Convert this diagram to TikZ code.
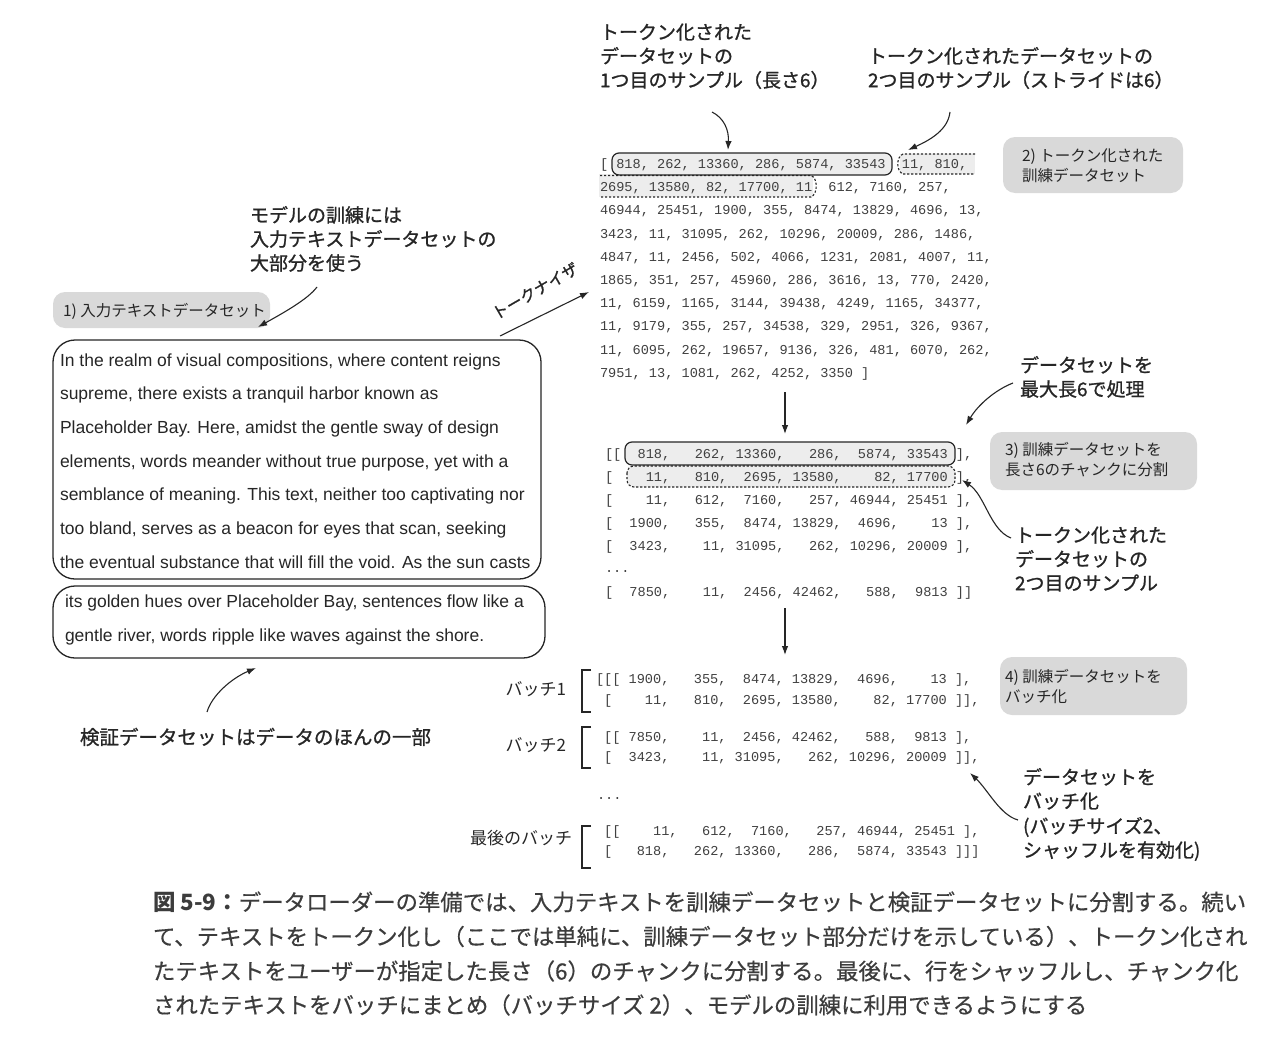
\documentclass[tikz,border=0pt]{standalone}
\usepackage{fontspec}
\setmainfont{Liberation Sans}
\newfontfamily\jpf{Noto Sans CJK JP}
\newfontfamily\jpm{Noto Sans CJK JP}[FakeBold=1.0]
\newfontfamily\jpc{Noto Sans CJK JP}[FakeBold=0.4]
\newfontfamily\monof{Liberation Mono}
\usetikzlibrary{arrows.meta}
\definecolor{hlgray}{HTML}{EDEDED}
\definecolor{boxgray}{HTML}{D9D9D9}
\definecolor{tokgray}{HTML}{404040}
\definecolor{ink}{HTML}{262626}
\begin{document}
\begin{tikzpicture}[x=1pt,y=-1pt,
  every node/.style={inner sep=0pt,outer sep=0pt},
  tok/.style={font=\monof\fontsize{13.6}{16}\selectfont,text=tokgray,anchor=base west},
  note/.style={font=\jpm\fontsize{19}{24}\selectfont,text=ink,anchor=base west},
  lbl/.style={font=\jpf\fontsize{15.5}{20}\selectfont,text=ink,anchor=base west},
  batchlbl/.style={font=\jpf\fontsize{17}{20}\selectfont,text=ink,anchor=base east},
  para/.style={font=\fontsize{17.5}{20}\selectfont,text=ink,anchor=base west},
  captext/.style={font=\jpc\fontsize{22.4}{28}\selectfont,text=ink!90,anchor=base west},
  graybox/.style={fill=boxgray,rounded corners=12},
  textbox/.style={draw=ink,line width=1.3,rounded corners=22},
  hlbox/.style={fill=hlgray,draw=ink,line width=1.2,rounded corners=7},
  dotline/.style={draw=ink,dash pattern=on 2.2 off 1.8,line width=1.1},
  arr/.style={-{Latex[length=9,width=6.5]},line width=1.1,draw=ink},
  bracket/.style={line width=1.8,draw=ink},
]
\useasboundingbox (0,0) rectangle (1268,1062);
\fill[white] (0,0) rectangle (1268,1062);

% ---------- top annotations ----------
\node[note] (n1a) at (600,39.2) {トークン化された};
\node[note] (n1b) at (600,63.2) {データセットの};
\node[note] (n1c) at (600,87.2) {1つ目のサンプル（長さ6）};
\node[note] (n2a) at (868,63.2) {トークン化されたデータセットの};
\node[note] (n2b) at (868,87.2) {2つ目のサンプル（ストライドは6）};

% ---------- gray step boxes ----------
\path[graybox] (53,292) rectangle (270,328);
\node[lbl] (b1) at (63,316) {1) 入力テキストデータセット};
\path[graybox] (1003,137) rectangle (1183,193);
\node[lbl] (b2a) at (1022,161.5) {2) トークン化された};
\node[lbl] (b2b) at (1022,181.5) {訓練データセット};
\path[graybox] (990,432) rectangle (1197,490);
\node[lbl] (b3a) at (1005,455.5) {3) 訓練データセットを};
\node[lbl] (b3b) at (1005,475.5) {長さ6のチャンクに分割};
\path[graybox] (1000,657) rectangle (1187,715);
\node[lbl] (b4a) at (1005,682.5) {4) 訓練データセットを};
\node[lbl] (b4b) at (1005,702.5) {バッチ化};

% ---------- highlight boxes in the token list ----------
\fill[hlgray] (900,154) rectangle (975,174);
\fill[hlgray] (599,174) rectangle (813,197);
\path[hlbox] (612,153) rectangle (892,175);
\draw[dotline] (975,154) -- (903,154) .. controls (896,157) and (896,171) .. (903,174) -- (975,174);
\draw[dotline] (600,175.5) -- (811,175.5) .. controls (818,178) and (818,194) .. (811,197) -- (600,197);

% ---------- token list ----------
\node[tok] (tl1) at (600,168.5) {[ 818, 262, 13360, 286, 5874, 33543~ 11, 810,};
\node[tok] (tl2) at (600,191.7) {2695, 13580, 82, 17700, 11~ 612, 7160, 257,};
\node[tok] (tl3) at (600,214.9) {46944, 25451, 1900, 355, 8474, 13829, 4696, 13,};
\node[tok] (tl4) at (600,238.1) {3423, 11, 31095, 262, 10296, 20009, 286, 1486,};
\node[tok] (tl5) at (600,261.3) {4847, 11, 2456, 502, 4066, 1231, 2081, 4007, 11,};
\node[tok] (tl6) at (600,284.5) {1865, 351, 257, 45960, 286, 3616, 13, 770, 2420,};
\node[tok] (tl7) at (600,307.7) {11, 6159, 1165, 3144, 39438, 4249, 1165, 34377,};
\node[tok] (tl8) at (600,330.9) {11, 9179, 355, 257, 34538, 329, 2951, 326, 9367,};
\node[tok] (tl9) at (600,354.1) {11, 6095, 262, 19657, 9136, 326, 481, 6070, 262,};
\node[tok] (tl10) at (600,377.3) {7951, 13, 1081, 262, 4252, 3350 ]};

% ---------- chunks ----------
\path[hlbox] (625,442) rectangle (955,465);
\path[fill=hlgray,rounded corners=7] (627,466) rectangle (955,487);
\draw[dotline,rounded corners=7] (627,466) rectangle (955,487);
\node[tok] (ck1) at (605,458.5) {[[~~818,~~~262, 13360,~~~286,~~5874, 33543 ],};
\node[tok] (ck2) at (605,481.5) {[~~~~11,~~~810,~~2695, 13580,~~~~82, 17700 ],};
\node[tok] (ck3) at (605,504.5) {[~~~~11,~~~612,~~7160,~~~257, 46944, 25451 ],};
\node[tok] (ck4) at (605,527.5) {[~~1900,~~~355,~~8474, 13829,~~4696,~~~~13 ],};
\node[tok] (ck5) at (605,550.5) {[~~3423,~~~~11, 31095,~~~262, 10296, 20009 ],};
\node[tok] (ck6) at (605,572) {...};
\node[tok] (ck7) at (605,596.5) {[~~7850,~~~~11,~~2456, 42462,~~~588,~~9813 ]]};

% ---------- batches ----------
\node[batchlbl] (bl1) at (566,695.5) {バッチ1};
\node[batchlbl] (bl2) at (566,751.5) {バッチ2};
\node[batchlbl] (bl3) at (572,844.5) {最後のバッチ};
\draw[bracket] (591,670) -- (582,670) -- (582,712) -- (591,712);
\draw[bracket] (591,727) -- (582,727) -- (582,768) -- (591,768);
\draw[bracket] (591,826) -- (582,826) -- (582,868) -- (591,868);
\node[tok] (bt1) at (596,683.5) {[[[ 1900,~~~355,~~8474, 13829,~~4696,~~~~13 ],};
\node[tok] (bt2) at (596,704.5) {~[~~~~11,~~~810,~~2695, 13580,~~~~82, 17700 ]],};
\node[tok] (bt3) at (596,741) {~[[ 7850,~~~~11,~~2456, 42462,~~~588,~~9813 ],};
\node[tok] (bt4) at (596,761) {~[~~3423,~~~~11, 31095,~~~262, 10296, 20009 ]],};
\node[tok] (bt5) at (597,799) {...};
\node[tok] (bt6) at (596,835.5) {~[[~~~~11,~~~612,~~7160,~~~257, 46944, 25451 ],};
\node[tok] (bt7) at (596,855.5) {~[~~~818,~~~262, 13360,~~~286,~~5874, 33543 ]]]};

% ---------- left side ----------
\node[note] (m1) at (250,222.2) {モデルの訓練には};
\node[note] (m2) at (250,246.2) {入力テキストデータセットの};
\node[note] (m3) at (250,270.2) {大部分を使う};

\draw[textbox] (53,340) rectangle (541,579);
\draw[textbox] (53,586) rectangle (545,658);
\node[para] (p1) at (60,366.2) {In the realm of visual compositions, where content reigns};
\node[para] (p2) at (60,399.7) {supreme, there exists a tranquil harbor known as};
\node[para] (p3) at (60,433.2) {Placeholder Bay. Here, amidst the gentle sway of design};
\node[para] (p4) at (60,467.2) {elements, words meander without true purpose, yet with a};
\node[para] (p5) at (60,500.7) {semblance of meaning. This text, neither too captivating nor};
\node[para] (p6) at (60,534.2) {too bland, serves as a beacon for eyes that scan, seeking};
\node[para] (p7) at (60,568.2) {the eventual substance that will fill the void. As the sun casts};
\node[para] (p8) at (65,607.2) {its golden hues over Placeholder Bay, sentences flow like a};
\node[para] (p9) at (65,641.2) {gentle river, words ripple like waves against the shore.};

\node[note,font=\jpm\fontsize{19.5}{24}\selectfont] (val) at (80,744.4) {検証データセットはデータのほんの一部};

% tokenizer
\coordinate (tks) at (500,336);
\coordinate (tke) at (589,292);
\draw[arr] (tks) -- (tke);
\node[font=\jpm\fontsize{16}{20}\selectfont,text=ink,rotate=30] (tkl) at (535,291) {トークナイザ};

% ---------- right notes ----------
\node[note] (r1a) at (1020,372.2) {データセットを};
\node[note] (r1b) at (1020,396.2) {最大長6で処理};
\node[note] (r2a) at (1015,542.2) {トークン化された};
\node[note] (r2b) at (1015,566.2) {データセットの};
\node[note] (r2c) at (1015,590.2) {2つ目のサンプル};
\node[note] (r3a) at (1023,784.2) {データセットを};
\node[note] (r3b) at (1023,808.2) {バッチ化};
\node[note] (r3c) at (1023,833.2) {(バッチサイズ2、};
\node[note] (r3d) at (1023,857.2) {シャッフルを有効化)};

% ---------- connectors ----------
\coordinate (a1s) at (712,112); \coordinate (a1e) at (728,150);
\draw[arr] (a1s) .. controls (724,118) and (729,130) .. (a1e);
\coordinate (a2s) at (950,112); \coordinate (a2e) at (908,150);
\draw[arr] (a2s) .. controls (948,130) and (930,140) .. (a2e);
\coordinate (a3s) at (317,287); \coordinate (a3e) at (258,327);
\draw[arr] (a3s) .. controls (308,299) and (285,312) .. (a3e);
\coordinate (a4s) at (207,712); \coordinate (a4e) at (256,668);
\draw[arr] (a4s) .. controls (212,695) and (232,678) .. (a4e);
\coordinate (a5s) at (1013,383); \coordinate (a5e) at (966,425);
\draw[arr] (a5s) .. controls (995,390) and (978,405) .. (a5e);
\coordinate (a6s) at (1011,538); \coordinate (a6e) at (962,480);
\draw[arr] (a6s) .. controls (990,530) and (985,495) .. (a6e);
\coordinate (a7s) at (1018,820); \coordinate (a7e) at (970,773);
\draw[arr] (a7s) .. controls (1000,815) and (988,790) .. (a7e);
\coordinate (v1s) at (785,392); \coordinate (v1e) at (785,434);
\draw[arr] (v1s) -- (v1e);
\coordinate (v2s) at (785,608); \coordinate (v2e) at (785,655);
\draw[arr] (v2s) -- (v2e);

% ---------- caption ----------
\node[captext] (c1) at (153,910.5) {{\jpf\bfseries 図 5-9：}データローダーの準備では、入力テキストを訓練データセットと検証データセットに分割する。続い};
\node[captext] (c2) at (153,945) {て、テキストをトークン化し（ここでは単純に、訓練データセット部分だけを示している）、トークン化され};
\node[captext] (c3) at (153,979.5) {たテキストをユーザーが指定した長さ（6）のチャンクに分割する。最後に、行をシャッフルし、チャンク化};
\node[captext] (c4) at (153,1013.5) {されたテキストをバッチにまとめ（バッチサイズ 2）、モデルの訓練に利用できるようにする};
\end{tikzpicture}
\end{document}
